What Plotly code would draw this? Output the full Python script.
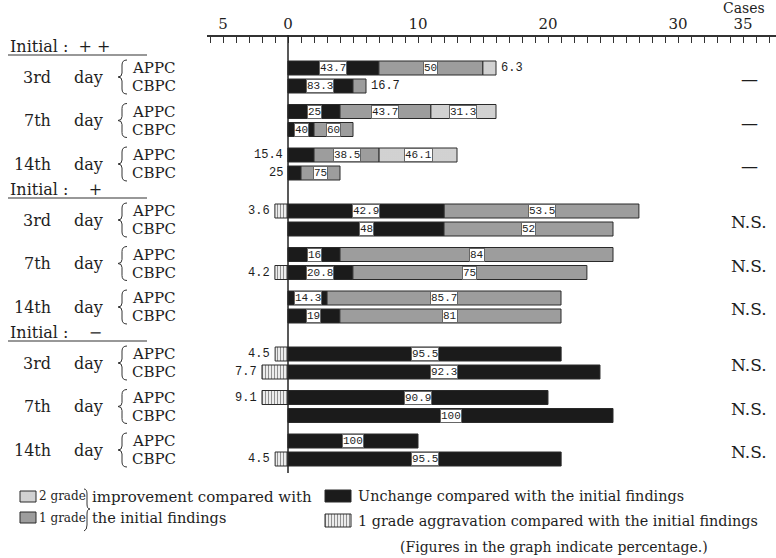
import plotly.graph_objects as go

# ---------------------------------------------------------------- data
GROUPS = ["Initial :  + +", "Initial :    +", "Initial :    \u2212"]
DAYS = ["3rd", "7th", "14th"]
DRUGS = ["APPC", "CBPC"]

# cases per row, ordered group -> day -> drug (APPC, CBPC)
CASES = [16, 6, 16, 5, 13, 4,
         28, 25, 25, 24, 21, 21,
         22, 26, 22, 25, 10, 22]

# percentage of each outcome per row
PCT_AGGRAVATION = [0, 0, 0, 0, 0, 0,
                   3.6, 0, 0, 4.2, 0, 0,
                   4.5, 7.7, 9.1, 0, 0, 4.5]
PCT_UNCHANGED = [43.7, 83.3, 25, 40, 15.4, 25,
                 42.9, 48, 16, 20.8, 14.3, 19,
                 95.5, 92.3, 90.9, 100, 100, 95.5]
PCT_GRADE1 = [50, 16.7, 43.7, 60, 38.5, 75,
              53.5, 52, 84, 75, 85.7, 81,
              0, 0, 0, 0, 0, 0]
PCT_GRADE2 = [6.3, 0, 31.3, 0, 46.1, 0,
              0, 0, 0, 0, 0, 0,
              0, 0, 0, 0, 0, 0]

# significance per group/day
SIGNIFICANCE = ["\u2014", "\u2014", "\u2014",
                "N.S.", "N.S.", "N.S.",
                "N.S.", "N.S.", "N.S."]

AXIS_TICKS = [-5, 0, 10, 20, 30, 35]
AXIS_TICK_TEXT = ["5", "0", "10", "20", "30", "35"]

# ---------------------------------------------------------------- styling
W, H = 776, 558
X0_PX = 288          # pixel position of zero cases
PX_PER_CASE = 13.0
SERIF = "DejaVu Serif"
MONO = "Liberation Mono"
INK = "#1e1e1e"

STYLES = {
    "aggravation": dict(color="#ffffff",
                        pattern=dict(shape="|", fgcolor="#222222", bgcolor="#ffffff",
                                     size=3, solidity=0.45)),
    "unchanged": dict(color="#1b1b1b", pattern=None),
    "grade1": dict(color="#9a9a9a",
                   pattern=dict(shape=".", fgcolor="#4a4a4a", bgcolor="#b4b4b4",
                                size=2, solidity=0.5)),
    "grade2": dict(color="#c8c8c8",
                   pattern=dict(shape=".", fgcolor="#9a9a9a", bgcolor="#dedede",
                                size=2, solidity=0.4)),
}

# labels drawn beside the bar instead of inside it: (row, segment) -> side
OUTSIDE_LABELS = {(0, "grade2"): "right", (1, "grade1"): "right",
                  (4, "unchanged"): "left", (5, "unchanged"): "left"}

BAR_H = 14


def row_y(g, d, k):
    return 68 + g * 143 + d * 43.5 + k * 18


def px_to_case(px):
    return (px - X0_PX) / PX_PER_CASE


def bar_marker(name):
    st = STYLES[name]
    m = dict(color=st["color"], line=dict(color="#2a2a2a", width=1))
    if st["pattern"]:
        m["pattern"] = st["pattern"]
    return m


rows = []
for g in range(len(GROUPS)):
    for d in range(len(DAYS)):
        for k in range(len(DRUGS)):
            rows.append((g, d, k))
ys = [row_y(*r) for r in rows]

fig = go.Figure()
annotations = []
shapes = []


def fmt(v):
    return "%g" % v


# ---------------------------------------------------------------- bars
segments = {"aggravation": [], "unchanged": [], "grade1": [], "grade2": []}
for i, n in enumerate(CASES):
    agg = n * PCT_AGGRAVATION[i] / 100
    unc = n * PCT_UNCHANGED[i] / 100
    g1 = n * PCT_GRADE1[i] / 100
    g2 = n * PCT_GRADE2[i] / 100
    if agg:
        segments["aggravation"].append((i, -agg, agg, PCT_AGGRAVATION[i]))
    if unc:
        segments["unchanged"].append((i, 0, unc, PCT_UNCHANGED[i]))
    if g1:
        segments["grade1"].append((i, unc, g1, PCT_GRADE1[i]))
    if g2:
        segments["grade2"].append((i, unc + g1, g2, PCT_GRADE2[i]))

for name, segs in segments.items():
    fig.add_trace(go.Bar(
        orientation="h",
        y=[ys[s[0]] for s in segs],
        base=[s[1] for s in segs],
        x=[s[2] for s in segs],
        width=BAR_H,
        marker=bar_marker(name),
        hoverinfo="skip", showlegend=False,
    ))
    for i, base, length, pct in segs:
        side = "left" if name == "aggravation" else OUTSIDE_LABELS.get((i, name))
        if side == "left":
            annotations.append(dict(x=base, y=ys[i], xref="x", yref="y", text=fmt(pct),
                                    xanchor="right", xshift=-3, showarrow=False,
                                    font=dict(family=MONO, size=12, color=INK)))
        elif side == "right":
            annotations.append(dict(x=base + length, y=ys[i], xref="x", yref="y",
                                    text=fmt(pct), xanchor="left", xshift=3,
                                    showarrow=False,
                                    font=dict(family=MONO, size=12, color=INK)))
        else:
            annotations.append(dict(x=base + length / 2, y=ys[i], xref="x", yref="y",
                                    text=fmt(pct), showarrow=False,
                                    bgcolor="#ffffff", bordercolor="#666666",
                                    borderwidth=1, borderpad=0,
                                    font=dict(family=MONO, size=11, color=INK)))

# zero line running down through the bars
shapes.append(dict(type="line", xref="x", yref="y", x0=0, x1=0, y0=35, y1=473,
                   line=dict(color="#222222", width=1.5)))

# dummy trace so the top case axis is drawn
fig.add_trace(go.Scatter(x=[0], y=[-50], xaxis="x2", yaxis="y", mode="markers",
                         marker=dict(opacity=0), hoverinfo="skip", showlegend=False))

# ---------------------------------------------------------------- row labels
for g, title in enumerate(GROUPS):
    top = row_y(g, 0, 0)
    annotations.append(dict(x=8, y=top - 22, xref="x3", yref="y", text=title,
                            xanchor="left", showarrow=False,
                            font=dict(family=SERIF, size=16, color=INK)))
    shapes.append(dict(type="line", xref="x3", yref="y", x0=8, x1=147,
                       y0=top - 13, y1=top - 13, line=dict(color="#333333", width=1.2)))
    for d, day in enumerate(DAYS):
        ya, yc = row_y(g, d, 0), row_y(g, d, 1)
        mid = (ya + yc) / 2
        annotations.append(dict(x=53, y=mid, xref="x3", yref="y", text=day,
                                xanchor="right", showarrow=False,
                                font=dict(family=SERIF, size=16, color=INK)))
        annotations.append(dict(x=72, y=mid, xref="x3", yref="y", text="day",
                                xanchor="left", showarrow=False,
                                font=dict(family=SERIF, size=16, color=INK)))
        for k, drug in enumerate(DRUGS):
            annotations.append(dict(x=130, y=row_y(g, d, k), xref="x3", yref="y",
                                    text=drug, xanchor="left", showarrow=False,
                                    font=dict(family=SERIF, size=15, color=INK)))
        t, b = ya - 8, yc + 8
        shapes.append(dict(
            type="path", xref="x3", yref="y",
            path=(f"M 127 {t} Q 122 {t} 122 {t + 5} L 122 {mid - 4} "
                  f"Q 122 {mid} 118 {mid} Q 122 {mid} 122 {mid + 4} "
                  f"L 122 {b - 5} Q 122 {b} 127 {b}"),
            line=dict(color="#333333", width=1)))
        annotations.append(dict(x=749, y=mid + 2, xref="x3", yref="y",
                                text=SIGNIFICANCE[g * len(DAYS) + d], showarrow=False,
                                font=dict(family=SERIF, size=17, color=INK)))

annotations.append(dict(x=744, y=8, xref="x3", yref="y", text="Cases",
                        showarrow=False, font=dict(family=SERIF, size=14, color=INK)))

# ---------------------------------------------------------------- key
KEY = [("grade2", 20, 36, 496.5, 11), ("grade1", 20, 36, 517.5, 11),
       ("unchanged", 325, 351, 496, 12), ("aggravation", 325, 351, 520.5, 13)]
for name, x0, x1, yc, h in KEY:
    fig.add_trace(go.Bar(orientation="h", y=[yc], base=[x0], x=[x1 - x0], width=h,
                         xaxis="x3", yaxis="y", marker=bar_marker(name),
                         hoverinfo="skip", showlegend=False))

KEY_TEXT = [(37, 496, "2 grade", 12), (37, 518, "1 grade", 12),
            (90, 497, "improvement compared with", 15),
            (90, 518, "the initial findings", 14.5),
            (356, 496, "Unchange compared with the initial findings", 14.4),
            (356, 521, "1 grade aggravation compared with the initial findings", 14.4),
            (398, 547, "(Figures in the graph indicate percentage.)", 14)]
for x, y, t, s in KEY_TEXT:
    annotations.append(dict(x=x, y=y, xref="x3", yref="y", text=t, xanchor="left",
                            showarrow=False, font=dict(family=SERIF, size=s, color=INK)))
shapes.append(dict(type="path", xref="x3", yref="y",
                   path="M 84 489 Q 87 489 87 494 L 87 504 Q 87 509 90 509 "
                        "Q 87 509 87 514 L 87 525 Q 87 530 84 531",
                   line=dict(color="#333333", width=1)))

# ---------------------------------------------------------------- layout
fig.update_layout(
    width=W, height=H, autosize=False,
    margin=dict(l=0, r=0, t=0, b=0, pad=0),
    paper_bgcolor="#ffffff", plot_bgcolor="rgba(0,0,0,0)",
    barmode="overlay", showlegend=False,
    xaxis=dict(domain=[0, 1], range=[px_to_case(0), px_to_case(W)], visible=False,
               fixedrange=True),
    xaxis2=dict(domain=[207 / W, 1], range=[px_to_case(207), px_to_case(W)],
                anchor="free", position=1 - 36 / H, side="top",
                showline=True, linecolor="#333333", linewidth=1.5,
                showgrid=False, zeroline=False,
                tickmode="array", tickvals=AXIS_TICKS, ticktext=AXIS_TICK_TEXT,
                ticks="inside", ticklen=6, tickcolor="#333333", tickwidth=1,
                minor=dict(dtick=1, tick0=0, ticks="inside", ticklen=6,
                           tickcolor="#333333", tickwidth=1),
                tickfont=dict(family=SERIF, size=15, color=INK),
                ticklabelstandoff=0, fixedrange=True),
    xaxis3=dict(domain=[0, 1], range=[0, W], visible=False, anchor="y",
                fixedrange=True),
    yaxis=dict(domain=[0, 1], range=[H, 0], visible=False, fixedrange=True),
    annotations=annotations,
    shapes=shapes,
)

fig.write_html("out.html")
